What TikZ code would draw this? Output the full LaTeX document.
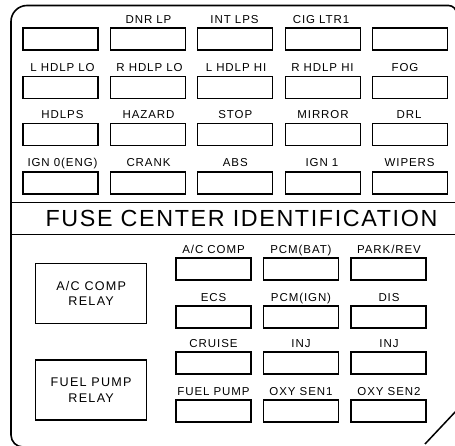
\documentclass[tikz,border=0pt]{standalone}
\usepackage{fontspec}
\setmainfont{Liberation Sans}
\newfontfamily\lblfont[LetterSpace=8]{Liberation Sans}
\newfontfamily\rlyfont[LetterSpace=10]{Liberation Sans}
\newfontfamily\ttlfont[LetterSpace=7]{Liberation Sans}
\begin{document}
\begin{tikzpicture}[x=1pt,y=-1pt,
  fuse/.style={draw,line width=1.3pt,minimum width=75pt,minimum height=22pt,inner sep=0pt,outer sep=0pt},
  relay/.style={draw,line width=1.2pt,minimum width=111pt,minimum height=60pt,inner sep=0pt,align=center,font=\rlyfont\fontsize{12.6}{15.6}\selectfont},
  lbl/.style={anchor=base,inner sep=0pt,font=\lblfont\fontsize{11.5}{12}\selectfont},
  outline/.style={line width=1.6pt},
  divider/.style={line width=1.8pt},
  ttl/.style={anchor=base,inner sep=0pt,font=\ttlfont\fontsize{23.3}{26}\selectfont}]
\useasboundingbox (0,0) rectangle (455,446);
\begin{scope}
\clip (0,0) rectangle (455,446);
\draw[outline] (456.5,60) [rounded corners=8pt] -- (456.5,5.5) [rounded corners=16pt] -- (11,5.5) [rounded corners=12pt] -- (11,447) -- (80,447);
\coordinate (diagA) at (457,410);
\coordinate (diagB) at (425,444);
\draw[line width=1.5pt] (diagA) -- (diagB);
\end{scope}
% dividers
\coordinate (dv1a) at (11,202.5); \coordinate (dv1b) at (456,202.5);
\coordinate (dv2a) at (11,234.5); \coordinate (dv2b) at (456,234.5);
\draw[divider] (dv1a) -- (dv1b);
\draw[divider] (dv2a) -- (dv2b);
\node[ttl] (title) at (241.5,226.7) {FUSE CENTER IDENTIFICATION};
% top section row 1
\node[fuse] (f11) at (60.5,39) {};
\node[fuse] (f12) at (147.9,39) {};
\node[fuse] (f13) at (235.3,39) {};
\node[fuse] (f14) at (322.7,39) {};
\node[fuse] (f15) at (410.1,39) {};
\node[lbl] (l12) at (148.5,23.5) {DNR LP};
\node[lbl] (l13) at (234.5,23.5) {INT LPS};
\node[lbl] (l14) at (321,23.5) {CIG LTR1};
% row 2
\node[fuse] (f21) at (60.5,87.5) {};
\node[fuse] (f22) at (147.9,87.5) {};
\node[fuse] (f23) at (235.3,87.5) {};
\node[fuse] (f24) at (322.7,87.5) {};
\node[fuse] (f25) at (410.1,87.5) {};
\node[lbl] (l21) at (62.5,71.5) {L HDLP LO};
\node[lbl] (l22) at (149.5,71.5) {R HDLP LO};
\node[lbl] (l23) at (236,71.5) {L HDLP HI};
\node[lbl] (l24) at (322.5,71.5) {R HDLP HI};
\node[lbl] (l25) at (405,71.5) {FOG};
% row 3
\node[fuse] (f31) at (60.5,134.5) {};
\node[fuse] (f32) at (147.9,134.5) {};
\node[fuse] (f33) at (235.3,134.5) {};
\node[fuse] (f34) at (322.7,134.5) {};
\node[fuse] (f35) at (410.1,134.5) {};
\node[lbl] (l31) at (62.5,118.5) {HDLPS};
\node[lbl] (l32) at (148.5,118.5) {HAZARD};
\node[lbl] (l33) at (235.3,118.5) {STOP};
\node[lbl] (l34) at (323,118.5) {MIRROR};
\node[lbl] (l35) at (409,118.5) {DRL};
% row 4
\node[fuse] (f41) at (60.5,183) {};
\node[fuse] (f42) at (147.9,183) {};
\node[fuse] (f43) at (235.3,183) {};
\node[fuse] (f44) at (322.7,183) {};
\node[fuse] (f45) at (410.1,183) {};
\node[lbl] (l41) at (62.5,167) {IGN 0(ENG)};
\node[lbl] (l42) at (148.5,167) {CRANK};
\node[lbl] (l43) at (235.3,167) {ABS};
\node[lbl] (l44) at (322,167) {IGN 1};
\node[lbl] (l45) at (409.6,167) {WIPERS};
% relays
\node[relay] (r1) at (91.2,293.3) {A/C COMP\\RELAY};
\node[relay] (r2) at (91.2,390) {FUEL PUMP\\RELAY};
% bottom fuses
\node[fuse] (b11) at (213.5,269) {};
\node[fuse] (b12) at (301,269) {};
\node[fuse] (b13) at (388.5,269) {};
\node[lbl] (m11) at (213.5,253.5) {A/C COMP};
\node[lbl] (m12) at (301,253.5) {PCM(BAT)};
\node[lbl] (m13) at (389,253.5) {PARK/REV};
\node[fuse] (b21) at (213.5,317) {};
\node[fuse] (b22) at (301,317) {};
\node[fuse] (b23) at (388.5,317) {};
\node[lbl] (m21) at (213.5,301.5) {ECS};
\node[lbl] (m22) at (301,301.5) {PCM(IGN)};
\node[lbl] (m23) at (389,301.5) {DIS};
\node[fuse] (b31) at (213.5,363) {};
\node[fuse] (b32) at (301,363) {};
\node[fuse] (b33) at (388.5,363) {};
\node[lbl] (m31) at (213.5,347.5) {CRUISE};
\node[lbl] (m32) at (301,347.5) {INJ};
\node[lbl] (m33) at (389,347.5) {INJ};
\node[fuse] (b41) at (213.5,411) {};
\node[fuse] (b42) at (301,411) {};
\node[fuse] (b43) at (388.5,411) {};
\node[lbl] (m41) at (213.5,395.5) {FUEL PUMP};
\node[lbl] (m42) at (301,395.5) {OXY SEN1};
\node[lbl] (m43) at (389,395.5) {OXY SEN2};
\end{tikzpicture}
\end{document}
